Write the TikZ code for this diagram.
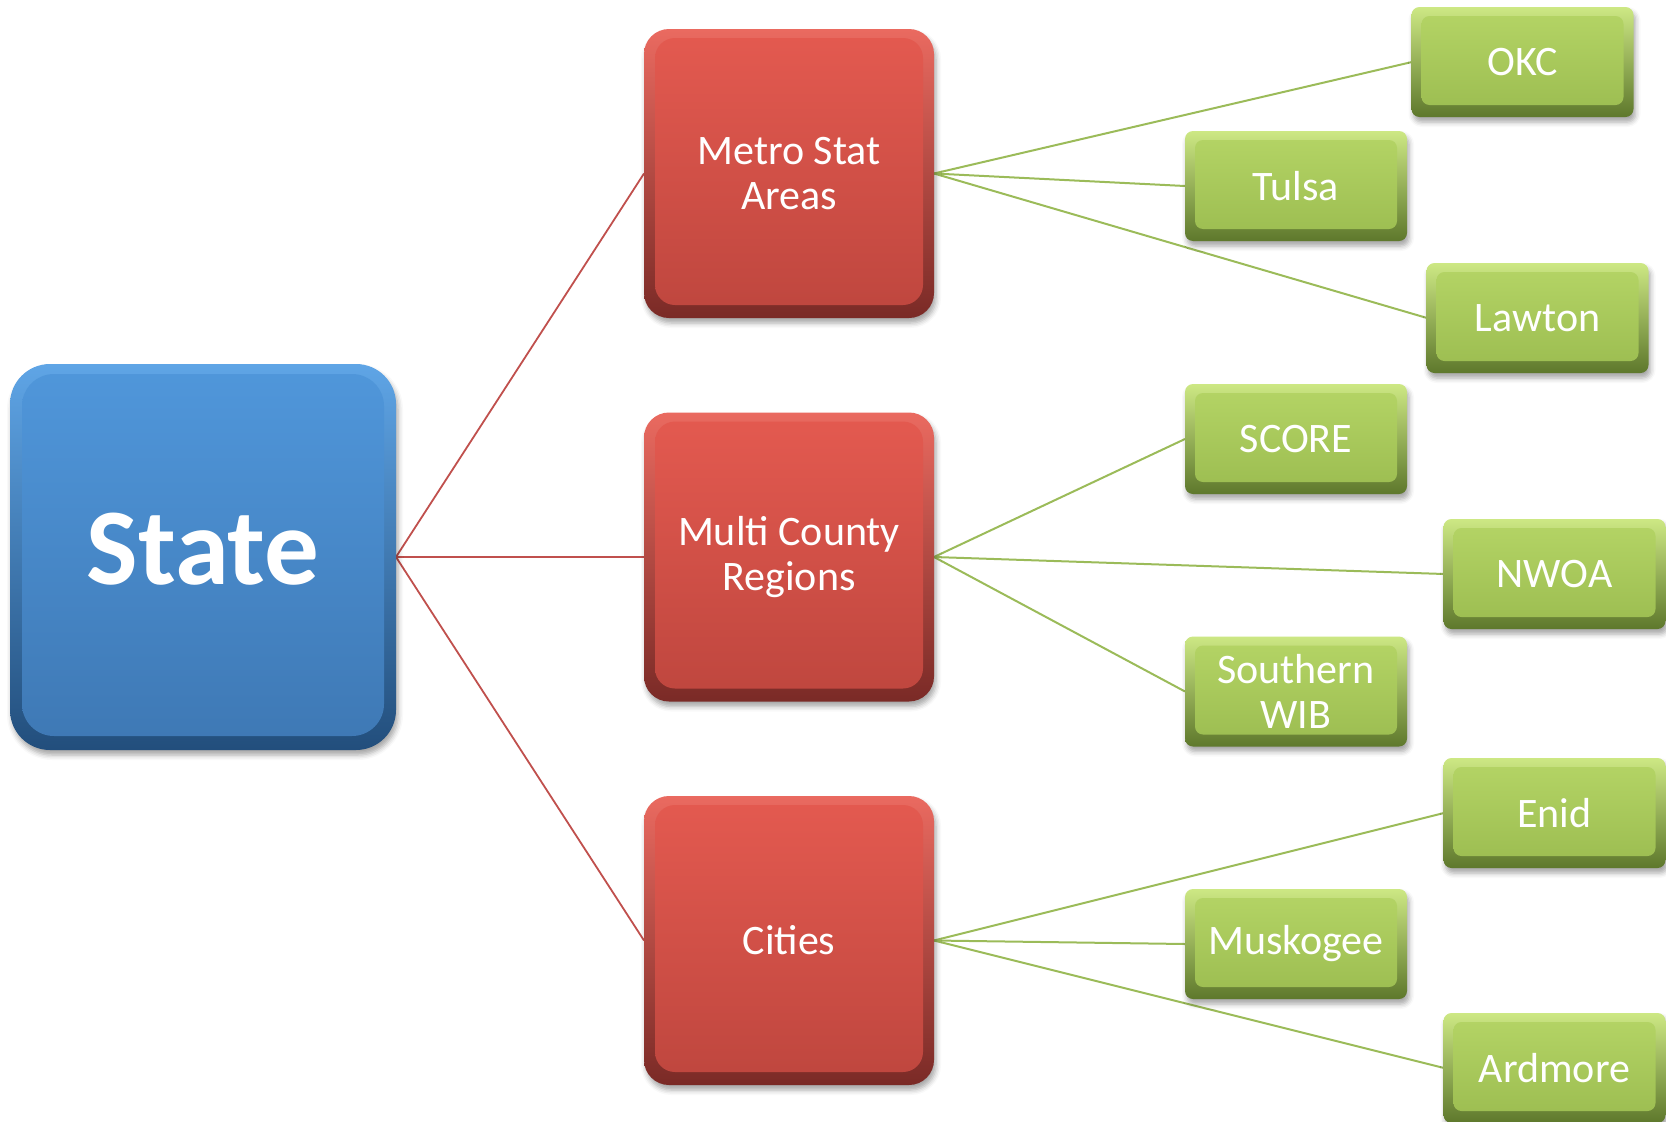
\documentclass[tikz,border=0pt]{standalone}
\usepackage{fontspec}
\setmainfont{Carlito}
\usetikzlibrary{shadows.blur}
\definecolor{redline}{HTML}{C0504D}
\definecolor{greenline}{HTML}{9BBB59}
\tikzset{
  basebox/.style={inner sep=0pt, outer sep=0pt, text=white, align=center,
    blur shadow={shadow xshift=2pt, shadow yshift=-5pt, shadow blur radius=5pt, shadow opacity=35}},
  bluebox/.style={basebox, rounded corners=40pt, minimum width=386pt, minimum height=386pt,
    top color={rgb,255:red,95;green,165;blue,230}, bottom color={rgb,255:red,34;green,78;blue,124},
    font=\fontsize{109}{115}\selectfont\bfseries,
    path picture={\shade[top color={rgb,255:red,80;green,151;blue,219}, bottom color={rgb,255:red,62;green,120;blue,180}, rounded corners=32pt]
      ([xshift=12pt,yshift=-10pt]path picture bounding box.north west) rectangle ([xshift=-12pt,yshift=14pt]path picture bounding box.south east);}},
  redbox/.style={basebox, rounded corners=25pt, minimum width=290pt, minimum height=289pt,
    top color={rgb,255:red,234;green,106;blue,96}, bottom color={rgb,255:red,122;green,42;blue,38},
    font=\fontsize{42}{45}\selectfont,
    path picture={\shade[top color={rgb,255:red,228;green,90;blue,80}, bottom color={rgb,255:red,190;green,70;blue,62}, rounded corners=20pt]
      ([xshift=11pt,yshift=-9pt]path picture bounding box.north west) rectangle ([xshift=-11pt,yshift=13pt]path picture bounding box.south east);}},
  greenbox/.style={basebox, rounded corners=8pt, minimum width=222pt, minimum height=110pt,
    top color={rgb,255:red,205;green,232;blue,132}, bottom color={rgb,255:red,94;green,120;blue,44},
    font=\fontsize{42}{45}\selectfont,
    path picture={\shade[top color={rgb,255:red,181;green,213;blue,102}, bottom color={rgb,255:red,155;green,188;blue,80}]
      ([xshift=10pt,yshift=-9pt]path picture bounding box.north west) rectangle ([xshift=-10pt,yshift=12pt]path picture bounding box.south east);}},
  redlink/.style={draw=redline, line width=1.8pt},
  greenlink/.style={draw=greenline, line width=2pt}
}
\begin{document}
\begin{tikzpicture}[x=1pt, y=-1pt]
\useasboundingbox (0,0) rectangle (1666,1122);
% links first
\coordinate (stateE) at (396,557);
\coordinate (metroW) at (644,173.5);
\coordinate (multiW) at (644,557);
\coordinate (citiesW) at (644,940.5);
\coordinate (metroE) at (934,173.5);
\coordinate (multiE) at (934,557);
\coordinate (citiesE) at (934,940.5);
\coordinate (okcW) at (1412,62);
\coordinate (tulsaW) at (1185,186);
\coordinate (lawtonW) at (1427,318);
\coordinate (scoreW) at (1185,439);
\coordinate (nwoaW) at (1444,574);
\coordinate (southernW) at (1185,691.5);
\coordinate (enidW) at (1444,813);
\coordinate (muskW) at (1185,944);
\coordinate (ardmoreW) at (1444,1068);
\draw[redlink] (stateE) -- (metroW);
\draw[redlink] (stateE) -- (multiW);
\draw[redlink] (stateE) -- (citiesW);
\draw[greenlink] (metroE) -- (okcW);
\draw[greenlink] (metroE) -- (tulsaW);
\draw[greenlink] (metroE) -- (lawtonW);
\draw[greenlink] (multiE) -- (scoreW);
\draw[greenlink] (multiE) -- (nwoaW);
\draw[greenlink] (multiE) -- (southernW);
\draw[greenlink] (citiesE) -- (enidW);
\draw[greenlink] (citiesE) -- (muskW);
\draw[greenlink] (citiesE) -- (ardmoreW);
% nodes
\node[bluebox] (state) at (203,557) {\raisebox{16pt}{State}};
\node[redbox] (metro) at (789,173.5) {Metro Stat\\Areas};
\node[redbox] (multi) at (789,557) {Multi County\\Regions};
\node[redbox] (cities) at (789,940.5) {Cities};
\node[greenbox] (okc) at (1522.5,62) {OKC};
\node[greenbox] (tulsa) at (1296,186) {Tulsa};
\node[greenbox] (lawton) at (1537.5,318) {Lawton};
\node[greenbox] (score) at (1296,439) {SCORE};
\node[greenbox] (nwoa) at (1554.5,574) {NWOA};
\node[greenbox] (southern) at (1296,691.5) {Southern\\WIB};
\node[greenbox] (enid) at (1554.5,813) {Enid};
\node[greenbox] (musk) at (1296,944) {Muskogee};
\node[greenbox] (ardmore) at (1554.5,1068) {Ardmore};
\end{tikzpicture}
\end{document}
